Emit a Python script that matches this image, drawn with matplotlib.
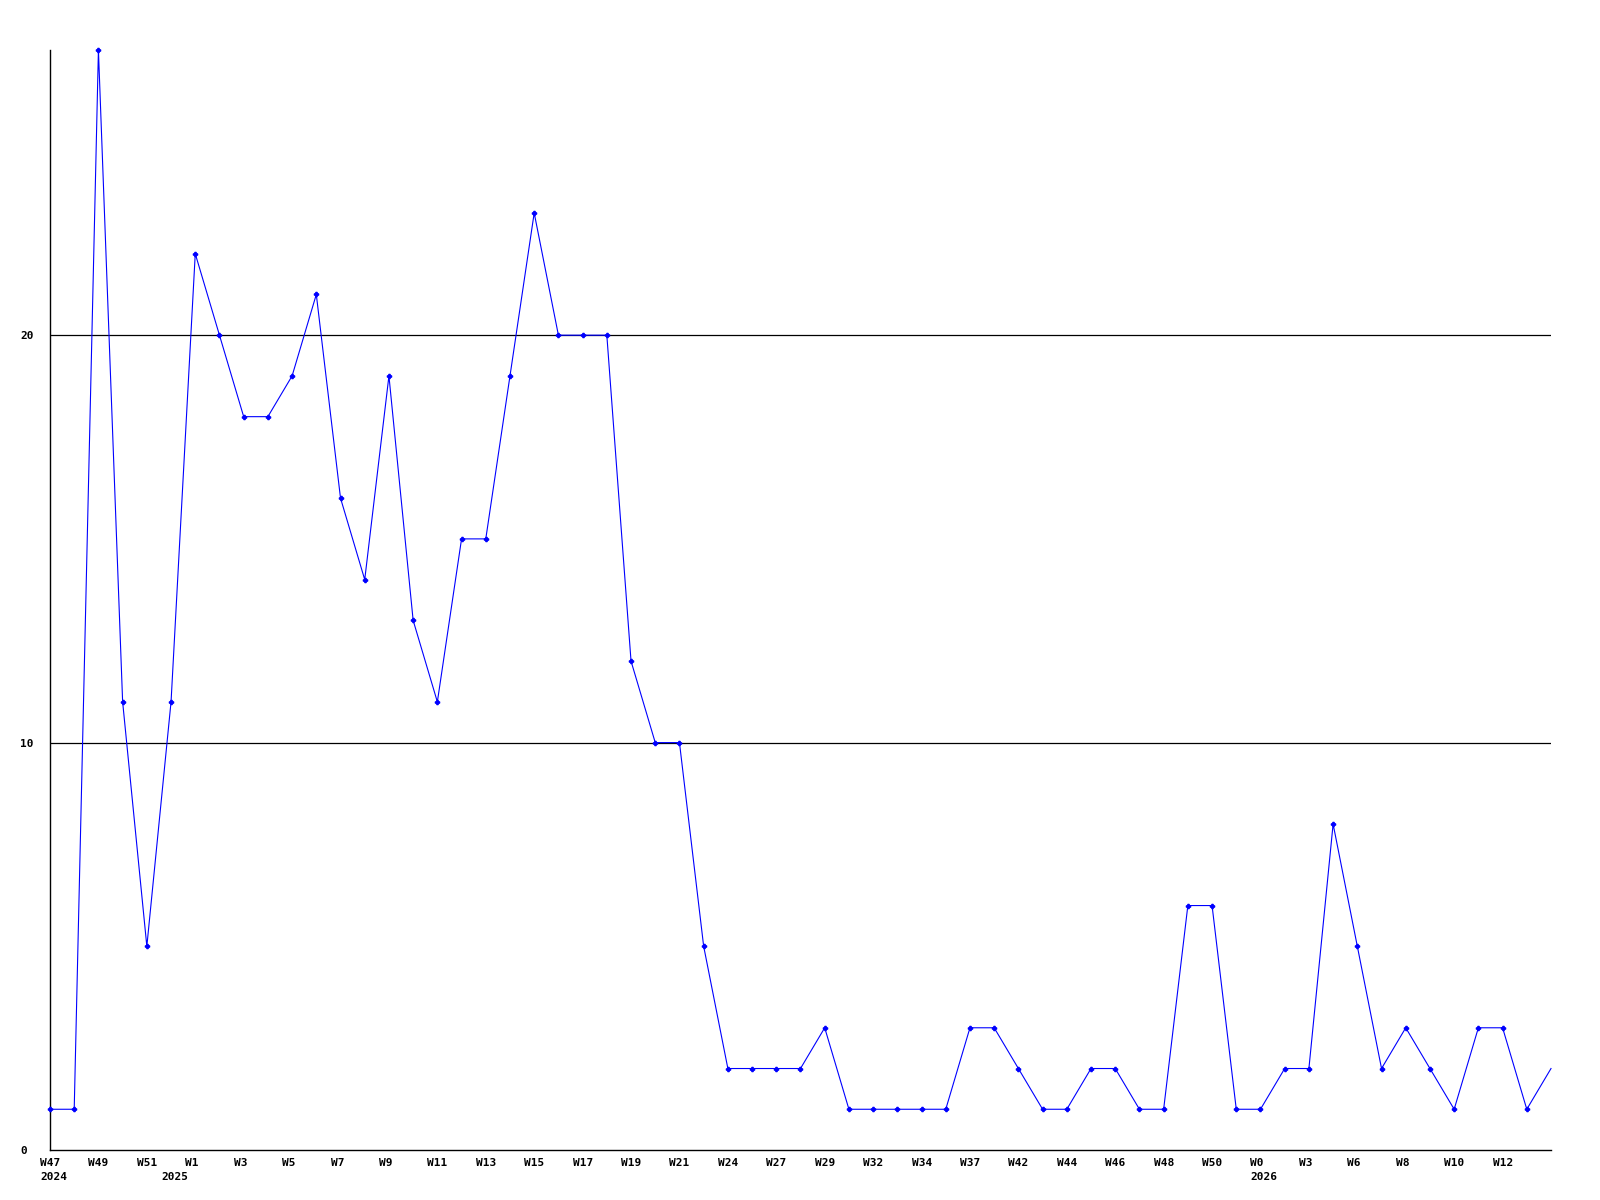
import matplotlib
matplotlib.use("Agg")
import matplotlib.pyplot as plt
import matplotlib.transforms as mtransforms

values = [1, 1, 27, 11, 5, 11, 22, 20, 18, 18, 19, 21, 16, 14, 19, 13, 11, 15, 15, 19,
          23, 20, 20, 20, 12, 10, 10, 5, 2, 2, 2, 2, 3, 1, 1, 1, 1, 1, 3, 3,
          2, 1, 1, 2, 2, 1, 1, 6, 6, 1, 1, 2, 2, 8, 5, 2, 3, 2, 1, 3,
          3, 1, 2]
week_labels = ["W47", "W49", "W51", "W1", "W3", "W5", "W7", "W9", "W11", "W13", "W15",
               "W17", "W19", "W21", "W24", "W27", "W29", "W32", "W34", "W37", "W42",
               "W44", "W46", "W48", "W50", "W0", "W3", "W6", "W8", "W10", "W12"]
year_labels = ["2024", "2025", "2026"]
year_positions = [0, 5, 50]
y_ticks = [0, 10, 20]

font = dict(family="DejaVu Sans Mono", weight="bold", size=8)

fig = plt.figure(figsize=(16, 12), dpi=100)
ax = fig.add_axes([50 / 1600, 50 / 1200, (1551 - 50) / 1600, (1150 - 50) / 1200])
x = list(range(len(values)))
ax.set_xlim(0, len(values) - 1)
ax.set_ylim(0, 27)

for v in y_ticks[1:]:
    ax.axhline(v, color="black", lw=0.9, zorder=1)

ax.plot(x, values, color="#0000ff", lw=0.8, marker="P", markersize=3,
        markevery=list(range(len(values) - 1)), zorder=3, clip_on=False)

for s in ["top", "right"]:
    ax.spines[s].set_visible(False)
for s in ["left", "bottom"]:
    ax.spines[s].set_color("black")
    ax.spines[s].set_linewidth(1)

tick_pos = [2 * i for i in range(len(week_labels))]
ax.set_xticks(tick_pos)
ax.set_xticklabels(week_labels, **font)
ax.tick_params(axis="x", length=0, pad=6)
off = mtransforms.ScaledTranslation(-10 / 100, 0, fig.dpi_scale_trans)
for lab in ax.get_xticklabels():
    lab.set_horizontalalignment("left")
    lab.set_transform(lab.get_transform() + off)

ax.set_yticks(y_ticks)
ax.set_yticklabels([str(v) for v in y_ticks], **font)
ax.tick_params(axis="y", length=0, pad=21.6)
for lab in ax.get_yticklabels():
    lab.set_horizontalalignment("left")

trans = mtransforms.blended_transform_factory(ax.transData, ax.transAxes) + off
for pos, lab in zip(year_positions, year_labels):
    ax.text(pos, 0, lab, transform=trans + mtransforms.ScaledTranslation(0, -22 / 100, fig.dpi_scale_trans),
            ha="left", va="top", **font)

fig.savefig("out.png", dpi=100, facecolor="white")
